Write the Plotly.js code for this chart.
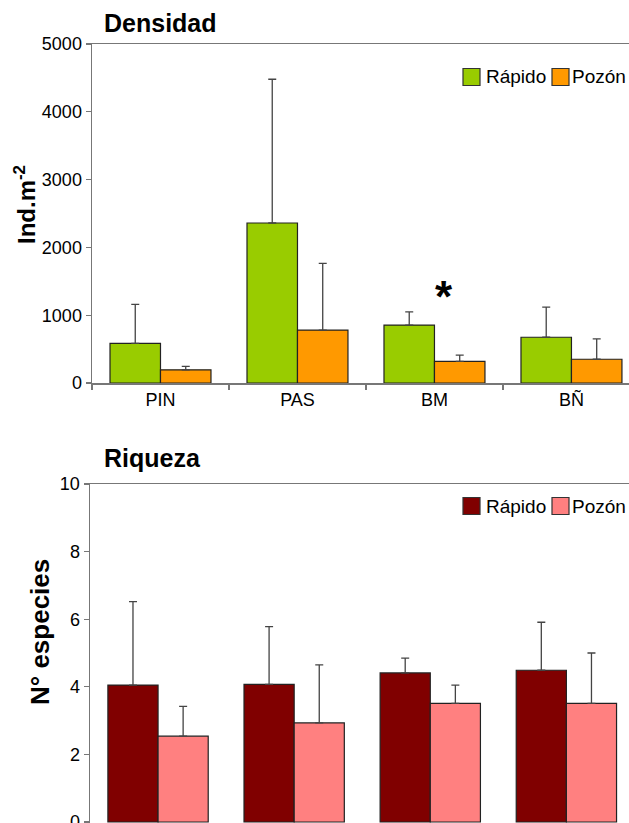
<!DOCTYPE html>
<html>
<head>
<meta charset="utf-8">
<script src="https://cdn.plot.ly/plotly-3.0.1.min.js"></script>
<style>html,body{margin:0;padding:0;background:#fff;}#chart{width:629px;height:823px;}</style>
</head>
<body>
<div id="chart"></div>
<script>
const categories = ['PIN', 'PAS', 'BM', 'BÑ'];
const seriesNames = ['Rápido', 'Pozón'];

const densRapido = [585, 2360, 855, 675];
const densRapidoErr = [575, 2120, 195, 445];
const densPozon = [195, 780, 320, 350];
const densPozonErr = [50, 985, 90, 300];

const riqRapido = [4.05, 4.07, 4.41, 4.49];
const riqRapidoErr = [2.47, 1.71, 0.44, 1.42];
const riqPozon = [2.54, 2.93, 3.51, 3.51];
const riqPozonErr = [0.88, 1.72, 0.54, 1.49];

const zeros = categories.map(() => 0);
const FONT = 'Liberation Sans, Arial, sans-serif';
const W = 629, H = 823;
const px = v => v / W;
const py = v => 1 - v / H;

function barTrace(name, y, err, color, xa, ya) {
  return {
    type: 'bar', name: name, x: categories, y: y,
    xaxis: xa, yaxis: ya, showlegend: false,
    marker: { color: color, line: { color: '#222', width: 1.2 } },
    error_y: { type: 'data', symmetric: false, array: err, arrayminus: zeros,
               color: '#444', thickness: 1.3, width: 4 },
    hoverinfo: 'x+y'
  };
}

const data = [
  barTrace(seriesNames[0], densRapido, densRapidoErr, '#99CC00', 'x', 'y'),
  barTrace(seriesNames[1], densPozon, densPozonErr, '#FF9900', 'x', 'y'),
  barTrace(seriesNames[0], riqRapido, riqRapidoErr, '#800000', 'x2', 'y2'),
  barTrace(seriesNames[1], riqPozon, riqPozonErr, '#FF8080', 'x2', 'y2')
];

const axisCommon = {
  showline: true, linecolor: '#777', linewidth: 1.5,
  ticks: 'outside', ticklen: 5, tickcolor: '#777', tickwidth: 1.2,
  showgrid: false, zeroline: false,
  tickfont: { family: FONT, size: 18, color: '#000' }
};

function legend(yCenter, c1, c2) {
  const s = 17;
  const shapes = [
    { type: 'rect', xref: 'paper', yref: 'paper', x0: px(463), x1: px(463 + s), y0: py(yCenter - s/2), y1: py(yCenter + s/2),
      fillcolor: c1, line: { color: '#333', width: 1.2 } },
    { type: 'rect', xref: 'paper', yref: 'paper', x0: px(552), x1: px(552 + s), y0: py(yCenter - s/2), y1: py(yCenter + s/2),
      fillcolor: c2, line: { color: '#333', width: 1.2 } }
  ];
  const ann = [
    { text: seriesNames[0], xref: 'paper', yref: 'paper', x: px(484), y: py(yCenter), xanchor: 'left', yanchor: 'middle',
      showarrow: false, font: { family: FONT, size: 19, color: '#000' } },
    { text: seriesNames[1], xref: 'paper', yref: 'paper', x: px(570), y: py(yCenter), xanchor: 'left', yanchor: 'middle',
      showarrow: false, font: { family: FONT, size: 19, color: '#000' } }
  ];
  return { shapes, ann };
}

const lg1 = legend(77, '#99CC00', '#FF9900');
const lg2 = legend(506, '#800000', '#FF8080');

const layout = {
  width: W, height: H,
  margin: { l: 0, r: 0, t: 0, b: 0 },
  paper_bgcolor: '#fff', plot_bgcolor: '#fff',
  barmode: 'group', bargap: 0.263, bargroupgap: 0,
  showlegend: false,
  xaxis: Object.assign({}, axisCommon, {
    domain: [px(92), 1], anchor: 'y', type: 'category', range: [-0.5, 3.42],
    tickson: 'boundaries', mirror: true
  }),
  yaxis: Object.assign({}, axisCommon, {
    domain: [py(383), py(44)], anchor: 'x', range: [0, 5000], dtick: 1000, ticklabeloverflow: 'allow'
  }),
  xaxis2: Object.assign({}, axisCommon, {
    domain: [px(90), 1], anchor: 'y2', type: 'category', range: [-0.5, 3.46],
    tickson: 'boundaries', mirror: true, showticklabels: false
  }),
  yaxis2: Object.assign({}, axisCommon, {
    domain: [0, py(484)], anchor: 'x2', range: [-0.03, 10], dtick: 2, tick0: 0, ticklabeloverflow: 'allow'
  }),
  shapes: lg1.shapes.concat(lg2.shapes),
  annotations: [
    { text: '<b>Densidad</b>', xref: 'paper', yref: 'paper', x: px(102), y: py(23), xanchor: 'left', yanchor: 'middle',
      showarrow: false, font: { family: FONT, size: 25, color: '#000' } },
    { text: '<b>Riqueza</b>', xref: 'paper', yref: 'paper', x: px(102), y: py(458), xanchor: 'left', yanchor: 'middle',
      showarrow: false, font: { family: FONT, size: 25, color: '#000' } },
    { text: '<b>Ind.m<sup>-2</sup></b>', xref: 'paper', yref: 'paper', x: px(25), y: py(205), xanchor: 'center', yanchor: 'middle',
      textangle: -90, showarrow: false, font: { family: FONT, size: 24, color: '#000' } },
    { text: '<b>N° especies</b>', xref: 'paper', yref: 'paper', x: px(40), y: py(632), xanchor: 'center', yanchor: 'middle',
      textangle: -90, showarrow: false, font: { family: FONT, size: 26, color: '#000' } },
    { text: '<b>*</b>', xref: 'x', yref: 'y', x: 2.07, y: 1270, xanchor: 'center', yanchor: 'middle',
      showarrow: false, font: { family: FONT, size: 44, color: '#000' } }
  ].concat(lg1.ann, lg2.ann)
};

Plotly.newPlot('chart', data, layout, { displayModeBar: false, staticPlot: true });
</script>
</body>
</html>
